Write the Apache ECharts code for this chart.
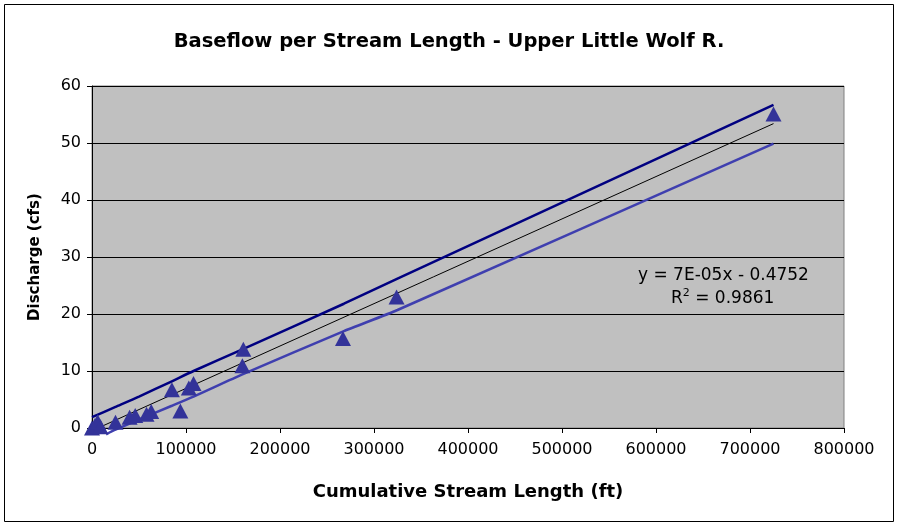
<!DOCTYPE html>
<html>
<head>
<meta charset="utf-8">
<script src="https://cdn.jsdelivr.net/npm/echarts@6/dist/echarts.min.js"></script>
<style>
  html, body { margin: 0; padding: 0; background: #fff; }
  #chart { width: 898px; height: 527px; }
</style>
</head>
<body>
<div id="chart"></div>
<script>
// observed points: [stream length ft, discharge cfs]
const observed = [
  [0, 0], [3000, 0.4], [6000, 1.1], [9000, 0.2], [25000, 1.0],
  [40000, 1.9], [46000, 2.2], [58000, 2.4], [63000, 2.9], [85000, 6.7],
  [94000, 3.0], [103000, 7.0], [108000, 7.8], [160000, 10.9], [161000, 13.8],
  [267000, 15.7], [324000, 23.0], [725000, 55.1],
]
// band lines
const upperX = [0, 25000, 50000, 85000, 108000, 160000, 268000, 325000, 725000]
const upperBand = [1.9, 3.7, 5.5, 8.2, 10.0, 13.8, 21.8, 26.2, 56.7]
const lowerX = [15000, 25000, 50000, 85000, 108000, 160000, 268000, 325000, 725000]
const lowerBand = [-1.1, -0.3, 1.5, 3.9, 5.5, 9.4, 17.0, 20.7, 49.9]
const trendLine = [[0, -0.48], [725000, 53.4]]
const yTicks = [0, 10, 20, 30, 40, 50, 60]
const xTicks = [0, 100000, 200000, 300000, 400000, 500000, 600000, 700000, 800000]

const chart = echarts.init(document.getElementById('chart'))
const font = 'DejaVu Sans, Verdana, sans-serif'

const option = {
  backgroundColor: '#fff',
  animation: false,
  title: {
    text: 'Baseflow per Stream Length - Upper Little Wolf R.',
    left: 'center',
    top: 27,
    textStyle: { fontFamily: font, fontSize: 19.5, fontWeight: 'bold', color: '#000' },
  },
  grid: {
    left: 92,
    right: 54,
    top: 86,
    bottom: 99,
    show: true,
    backgroundColor: '#C0C0C0',
    borderColor: '#808080',
    borderWidth: 1,
  },
  xAxis: {
    type: 'value',
    min: xTicks[0],
    max: xTicks[xTicks.length - 1],
    interval: 100000,
    name: 'Cumulative Stream Length (ft)',
    nameLocation: 'middle',
    nameGap: 55,
    nameTextStyle: { fontFamily: font, fontSize: 18, fontWeight: 'bold', color: '#000' },
    axisLine: { show: true, onZero: false, lineStyle: { color: '#000', width: 1 } },
    axisTick: { show: true, inside: false, length: 5, lineStyle: { color: '#000' } },
    axisLabel: { fontFamily: font, fontSize: 16, color: '#000', margin: 14, formatter: v => String(v) },
    splitLine: { show: false },
  },
  yAxis: {
    type: 'value',
    min: yTicks[0],
    max: yTicks[yTicks.length - 1],
    interval: 10,
    name: 'Discharge (cfs)',
    nameLocation: 'middle',
    nameGap: 49,
    nameTextStyle: { fontFamily: font, fontSize: 15, fontWeight: 'bold', color: '#000' },
    axisLine: { show: true, onZero: false, lineStyle: { color: '#000', width: 1 } },
    axisTick: { show: true, inside: false, length: 5, lineStyle: { color: '#000' } },
    axisLabel: { fontFamily: font, fontSize: 16, color: '#000', margin: 11 },
    splitLine: { show: true, lineStyle: { color: '#000', width: 1 } },
  },
  series: [
    {
      name: 'upper',
      type: 'line',
      data: upperX.map((x, i) => [x, upperBand[i]]),
      symbol: 'none',
      smooth: 0.2,
      clip: false,
      lineStyle: { color: '#000080', width: 2.5 },
      z: 3,
    },
    {
      name: 'lower',
      type: 'line',
      data: lowerX.map((x, i) => [x, lowerBand[i]]),
      symbol: 'none',
      smooth: 0.2,
      clip: false,
      lineStyle: { color: '#3F3FAF', width: 2.5 },
      z: 3,
    },
    {
      name: 'trend',
      type: 'line',
      data: trendLine,
      symbol: 'none',
      clip: true,
      lineStyle: { color: '#000', width: 1 },
      z: 4,
    },
    {
      name: 'observed',
      type: 'scatter',
      data: observed,
      symbol: 'triangle',
      symbolSize: [16, 15],
      clip: false,
      itemStyle: { color: '#333399', opacity: 1 },
      z: 5,
    },
  ],
  graphic: [
    {
      type: 'rect',
      shape: { x: 4.5, y: 4.5, width: 889, height: 517 },
      style: { fill: 'none', stroke: '#000', lineWidth: 1 },
      z: 0,
    },
    {
      type: 'text',
      left: 638,
      top: 267,
      style: { text: 'y = 7E-05x - 0.4752', fontFamily: font, fontSize: 17, fill: '#000' },
      z: 10,
    },
    {
      type: 'text',
      left: 671,
      top: 288,
      style: {
        text: 'R{sup|2} = 0.9861',
        fontFamily: font,
        fontSize: 17,
        fill: '#000',
        rich: { sup: { fontSize: 11, verticalAlign: 'top', padding: [0, 0, 10, 0], fontFamily: font } },
      },
      z: 10,
    },
  ],
}

chart.setOption(option)
</script>
</body>
</html>
